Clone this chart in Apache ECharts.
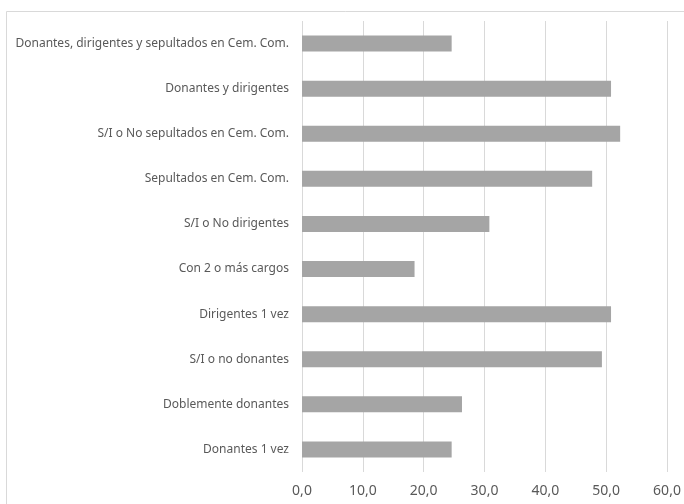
<!DOCTYPE html>
<html>
<head>
<meta charset="utf-8">
<script src="https://cdn.jsdelivr.net/npm/echarts@6/dist/echarts.min.js"></script>
<style>
  html, body { margin: 0; padding: 0; background: #fff; }
  #chart { width: 684px; height: 504px; }
</style>
</head>
<body>
<div id="chart"></div>
<script>
// Categories listed bottom to top (category axis runs upward)
const categories = [
  'Donantes 1 vez',
  'Doblemente donantes',
  'S/I o no donantes',
  'Dirigentes 1 vez',
  'Con 2 o más cargos',
  'S/I o No dirigentes',
  'Sepultados en Cem. Com.',
  'S/I o No sepultados en Cem. Com.',
  'Donantes y dirigentes',
  'Donantes, dirigentes y sepultados en Cem. Com.'
];
const values = [24.6, 26.3, 49.3, 50.8, 18.5, 30.8, 47.7, 52.3, 50.8, 24.6];

const xMin = 0;
const xMax = 60;
const xStep = 10;

const chart = echarts.init(document.getElementById('chart'), null, { renderer: 'canvas' });
const font = '"Noto Sans", "Open Sans", sans-serif';

chart.setOption({
  animation: false,
  backgroundColor: '#ffffff',
  graphic: [{
    type: 'rect',
    shape: { x: 6.5, y: 11.5, width: 720, height: 560 },
    style: { fill: 'none', stroke: '#d9d9d9', lineWidth: 1 },
    silent: true,
    z: -1
  }],
  grid: { left: 302, right: 17, top: 21, bottom: 32, containLabel: false },
  xAxis: {
    type: 'value',
    min: xMin,
    max: xMax,
    interval: xStep,
    axisLine: { show: false },
    axisTick: { show: false },
    splitLine: { show: true, lineStyle: { color: '#d9d9d9', width: 1 } },
    axisLabel: {
      color: '#595959',
      fontFamily: font,
      fontSize: 14,
      margin: 12,
      formatter: v => v.toFixed(1).replace('.', ',')
    }
  },
  yAxis: {
    type: 'category',
    data: categories,
    axisLine: { show: false },
    axisTick: { show: false },
    splitLine: { show: false },
    axisLabel: {
      color: '#595959',
      fontFamily: font,
      fontSize: 12,
      margin: 13
    }
  },
  series: [{
    type: 'bar',
    data: values,
    barWidth: 16,
    itemStyle: { color: '#a5a5a5' }
  }]
});
</script>
</body>
</html>
